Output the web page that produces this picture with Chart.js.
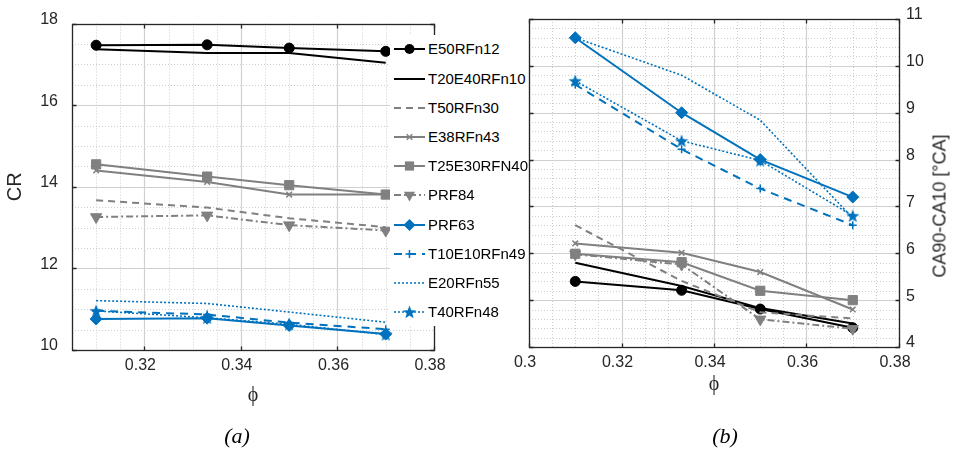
<!DOCTYPE html>
<html>
<head>
<meta charset="utf-8">
<script src="https://cdn.jsdelivr.net/npm/chart.js@4.4.1/dist/chart.umd.min.js"></script>
<style>
  body { margin: 0; background: #fff; }
  #fig { position: relative; width: 954px; height: 453px; overflow: hidden; font-family: "Liberation Sans", Arial, sans-serif; }
  #fig canvas { position: absolute; top: 0; }
  #legend { position: absolute; left: 390px; top: 35px; width: 138px; height: 291px; background: #fff; z-index: 2; }
  .row { position: absolute; left: 0; width: 138px; height: 20px; }
  .row svg { position: absolute; left: 4px; top: 2px; }
  .row span { position: absolute; left: 38px; top: 0; font-size: 15px; line-height: 20px; color: #000; white-space: nowrap; }
  #caTitle { position: absolute; left: 940px; top: 206px; transform: translate(-50%, -50%) rotate(-90deg); font-size: 18px; color: #262626; white-space: nowrap; }
  .cap { position: absolute; top: 436px; transform: translate(-50%, -50%); font: italic 22px "Liberation Serif", "Times New Roman", serif; color: #000; }
</style>
</head>
<body>
<div id="fig">
  <canvas id="crChart" width="480" height="453" style="left:0"></canvas>
  <canvas id="caChart" width="474" height="453" style="left:480px"></canvas>
  <div id="legend"></div>
  <div id="caTitle">CA90-CA10 [°CA]</div>
  <div class="cap" style="left:237px">(a)</div>
  <div class="cap" style="left:725px">(b)</div>
</div>
<script>
// equivalence ratio of the four operating points
var phi = [0.310, 0.333, 0.350, 0.370];

var names = ['E50RFn12', 'T20E40RFn10', 'T50RFn30', 'E38RFn43', 'T25E30RFN40',
             'PRF84', 'PRF63', 'T10E10RFn49', 'E20RFn55', 'T40RFn48'];

// compression ratio (a)
var crE50RFn12    = [17.47, 17.48, 17.40, 17.32];
var crT20E40RFn10 = [17.37, 17.28, 17.28, 17.04];
var crT50RFn30    = [13.67, 13.49, 13.23, 13.01];
var crE38RFn43    = [14.40, 14.12, 13.81, 13.81];
var crT25E30RFN40 = [14.55, 14.25, 14.04, 13.81];
var crPRF84       = [13.26, 13.30, 13.06, 12.93];
var crPRF63       = [10.76, 10.78, 10.60, 10.39];
var crT10E10RFn49 = [10.96, 10.87, 10.67, 10.51];
var crE20RFn55    = [11.21, 11.14, 10.93, 10.68];
var crT40RFn48    = [10.96, 10.79, 10.63, 10.38];

// combustion duration CA90-CA10 (b)
var caE50RFn12    = [5.40, 5.21, 4.81, 4.41];
var caT20E40RFn10 = [5.80, 5.30, 4.83, 4.50];
var caT50RFn30    = [6.60, 5.41, 4.74, 4.61];
var caE38RFn43    = [6.21, 6.01, 5.60, 4.80];
var caT25E30RFN40 = [5.99, 5.81, 5.20, 5.00];
var caPRF84       = [5.98, 5.76, 4.59, 4.39];
var caPRF63       = [10.60, 9.00, 8.00, 7.20];
var caT10E10RFn49 = [9.60, 8.22, 7.38, 6.60];
var caE20RFn55    = [10.60, 9.80, 8.84, 6.75];
var caT40RFn48    = [9.68, 8.40, 7.98, 6.80];

var phiTicksA = [0.32, 0.34, 0.36, 0.38];
var phiTicksB = [0.30, 0.32, 0.34, 0.36, 0.38];
var crTicks = [10, 12, 14, 16, 18];
var caTicks = [4, 5, 6, 7, 8, 9, 10, 11];

var crValues = [crE50RFn12, crT20E40RFn10, crT50RFn30, crE38RFn43, crT25E30RFN40,
                crPRF84, crPRF63, crT10E10RFn49, crE20RFn55, crT40RFn48];
var caValues = [caE50RFn12, caT20E40RFn10, caT50RFn30, caE38RFn43, caT25E30RFN40,
                caPRF84, caPRF63, caT10E10RFn49, caE20RFn55, caT40RFn48];

var BLACK = '#000000', GRAY = '#808080', BLUE = '#0072BD';

// line / marker look of every series, same order as names
var seriesStyle = [
  { color: BLACK, dash: [],           width: 2,   marker: 'circle',   size: 5 },
  { color: BLACK, dash: [],           width: 2,   marker: null },
  { color: GRAY,  dash: [7, 5],       width: 2,   marker: null },
  { color: GRAY,  dash: [],           width: 2,   marker: 'crossRot', size: 4 },
  { color: GRAY,  dash: [],           width: 2,   marker: 'rect',     size: 6.5 },
  { color: GRAY,  dash: [7, 3, 2, 3], width: 2,   marker: 'triDown',  size: 6.5 },
  { color: BLUE,  dash: [],           width: 2,   marker: 'diamond',  size: 6 },
  { color: BLUE,  dash: [8, 6],       width: 2,   marker: 'plus',     size: 4 },
  { color: BLUE,  dash: [2, 2],       width: 1.6, marker: null },
  { color: BLUE,  dash: [2, 2],       width: 1.6, marker: 'star',     size: 7 }
];

function starPoints(cx, cy, R, r) {
  var pts = [];
  for (var k = 0; k < 10; k++) {
    var a = -Math.PI / 2 + k * Math.PI / 5;
    var rr = k % 2 ? r : R;
    pts.push([cx + rr * Math.cos(a), cy + rr * Math.sin(a)]);
  }
  return pts;
}

// filled five point star, used as a pointStyle image
function makeStar(R, color) {
  var c = document.createElement('canvas');
  c.width = c.height = Math.ceil(2 * R + 2);
  var g = c.getContext('2d');
  var pts = starPoints(c.width / 2, c.height / 2 + 0.6, R, R * 0.42);
  g.beginPath();
  pts.forEach(function (p, k) { k ? g.lineTo(p[0], p[1]) : g.moveTo(p[0], p[1]); });
  g.closePath();
  g.fillStyle = color;
  g.fill();
  return c;
}

function pointStyleFor(m, st) {
  if (m === 'star') return makeStar(st.size, st.color);
  if (m === 'triDown') return 'triangle';
  if (m === 'diamond') return 'rectRot';
  if (m === 'plus') return 'cross';
  return m;
}

function buildSets(valueLists) {
  return names.map(function (name, i) {
    var st = seriesStyle[i];
    var lineMarker = st.marker === 'crossRot' || st.marker === 'plus';
    return {
      label: name,
      data: phi.map(function (p, j) { return { x: p, y: valueLists[i][j] }; }),
      borderColor: st.color,
      backgroundColor: st.color,
      borderWidth: st.width,
      borderDash: st.dash,
      pointStyle: st.marker ? pointStyleFor(st.marker, st) : false,
      pointRadius: st.marker ? st.size : 0,
      pointRotation: st.marker === 'triDown' ? 180 : 0,
      pointBorderWidth: lineMarker ? 1.5 : 1,
      pointBackgroundColor: st.color,
      pointBorderColor: st.color,
      tension: 0,
      fill: false,
      order: -i
    };
  });
}

function stepsBetween(min, max, step) {
  var out = [];
  for (var k = Math.ceil(min / step - 1e-6); k * step <= max + 1e-9; k++) out.push(k * step);
  return out;
}

// dotted minor grid, solid major grid, axes box and inward tick marks
var axesBox = {
  id: 'axesBox',
  beforeDatasetsDraw: function (chart, args, opts) {
    var ctx = chart.ctx, a = chart.chartArea;
    var xs = chart.scales.x, ys = chart.scales.y;
    function isMajor(scale, v, step) {
      return scale.ticks.some(function (t) { return Math.abs(t.value - v) < step / 100; });
    }
    ctx.save();
    ctx.lineWidth = 1;
    ctx.strokeStyle = '#cdcdcd';
    ctx.setLineDash([1, 2]);
    stepsBetween(xs.min, xs.max, opts.xStep).forEach(function (v) {
      if (isMajor(xs, v, opts.xStep)) return;
      var px = Math.round(xs.getPixelForValue(v)) + 0.5;
      ctx.beginPath(); ctx.moveTo(px, a.top); ctx.lineTo(px, a.bottom); ctx.stroke();
    });
    stepsBetween(ys.min, ys.max, opts.yStep).forEach(function (v) {
      if (isMajor(ys, v, opts.yStep)) return;
      var py = Math.round(ys.getPixelForValue(v)) + 0.5;
      ctx.beginPath(); ctx.moveTo(a.left, py); ctx.lineTo(a.right, py); ctx.stroke();
    });
    ctx.setLineDash([]);
    ctx.strokeStyle = '#d0d0d0';
    ctx.lineWidth = 1.2;
    ctx.beginPath();
    xs.ticks.forEach(function (t) {
      var px = Math.round(xs.getPixelForValue(t.value)) + 0.5;
      ctx.moveTo(px, a.top); ctx.lineTo(px, a.bottom);
    });
    ys.ticks.forEach(function (t) {
      var py = Math.round(ys.getPixelForValue(t.value)) + 0.5;
      ctx.moveTo(a.left, py); ctx.lineTo(a.right, py);
    });
    ctx.stroke();

    ctx.strokeStyle = '#262626';
    ctx.lineWidth = 1.3;
    var L = Math.round(a.left) + 0.5, R = Math.round(a.right) + 0.5;
    var T = Math.round(a.top) + 0.5, B = Math.round(a.bottom) + 0.5;
    ctx.strokeRect(L, T, R - L, B - T);
    ctx.beginPath();
    xs.ticks.forEach(function (t) {
      var px = Math.round(xs.getPixelForValue(t.value)) + 0.5;
      ctx.moveTo(px, B); ctx.lineTo(px, B - 4);
      ctx.moveTo(px, T); ctx.lineTo(px, T + 4);
    });
    ys.ticks.forEach(function (t) {
      var py = Math.round(ys.getPixelForValue(t.value)) + 0.5;
      ctx.moveTo(L, py); ctx.lineTo(L + 4, py);
      ctx.moveTo(R, py); ctx.lineTo(R - 4, py);
    });
    ctx.stroke();
    ctx.restore();
  }
};

Chart.defaults.font.family = '"Liberation Sans", Arial, sans-serif';
Chart.defaults.color = '#262626';

function fixedTicks(list) {
  return function (scale) { scale.ticks = list.map(function (v) { return { value: v }; }); };
}
function tickText(v) { return String(v); }

// major grid is stroked by axesBox, the library only lays out the labels
var noGrid = { display: false, drawTicks: false };

var crChart = new Chart(document.getElementById('crChart'), {
  type: 'line',
  data: { datasets: buildSets(crValues) },
  options: {
    responsive: false,
    animation: false,
    layout: { padding: { top: 15, right: 46, left: 0, bottom: 0 } },
    plugins: {
      legend: { display: false },
      tooltip: { enabled: false },
      axesBox: { xStep: 0.005, yStep: 0.5 }
    },
    scales: {
      x: {
        type: 'linear', min: 0.305, max: 0.38,
        afterBuildTicks: fixedTicks(phiTicksA),
        afterFit: function (s) { s.height = 103; },
        grid: noGrid,
        border: { display: false },
        ticks: { font: { size: 16 }, padding: 6, labelOffset: -4, maxRotation: 0, callback: tickText },
        title: { display: true, text: 'ϕ', font: { family: '"Liberation Serif", serif', size: 20 }, color: '#262626', padding: { top: 0, bottom: 45 } }
      },
      y: {
        type: 'linear', min: 10, max: 18,
        afterBuildTicks: fixedTicks(crTicks),
        afterFit: function (s) { s.width = 72; },
        grid: noGrid,
        border: { display: false },
        ticks: { font: { size: 16 }, padding: 14, labelOffset: -4, callback: tickText },
        title: { display: true, text: 'CR', font: { size: 20 }, color: '#262626', padding: { top: 3, bottom: 0 } }
      }
    }
  },
  plugins: [axesBox]
});

var caChart = new Chart(document.getElementById('caChart'), {
  type: 'line',
  data: { datasets: buildSets(caValues) },
  options: {
    responsive: false,
    animation: false,
    layout: { padding: { top: 19, right: 0, left: 49, bottom: 0 } },
    plugins: {
      legend: { display: false },
      tooltip: { enabled: false },
      axesBox: { xStep: 0.005, yStep: 0.2 }
    },
    scales: {
      x: {
        type: 'linear', min: 0.3, max: 0.38,
        afterBuildTicks: fixedTicks(phiTicksB),
        afterFit: function (s) { s.height = 106; },
        grid: noGrid,
        border: { display: false },
        ticks: { font: { size: 16 }, padding: 6, labelOffset: -4, maxRotation: 0, callback: tickText },
        title: { display: true, text: 'ϕ', font: { family: '"Liberation Serif", serif', size: 20 }, color: '#262626', padding: { top: 0, bottom: 56 } }
      },
      y: {
        type: 'linear', position: 'right', min: 4, max: 11,
        afterBuildTicks: fixedTicks(caTicks),
        afterFit: function (s) { s.width = 55; },
        grid: noGrid,
        border: { display: false },
        ticks: { font: { size: 16 }, padding: 7, labelOffset: -4, callback: tickText }
      }
    }
  },
  plugins: [axesBox]
});

// legend shared by both panels
function markerSvg(m, cx, cy, st) {
  var c = st.color;
  if (m === 'circle') return '<circle cx="' + cx + '" cy="' + cy + '" r="' + st.size + '" fill="' + c + '"/>';
  if (m === 'rect') {
    var h = st.size * Math.SQRT1_2;
    return '<rect x="' + (cx - h) + '" y="' + (cy - h) + '" width="' + 2 * h + '" height="' + 2 * h + '" fill="' + c + '"/>';
  }
  if (m === 'crossRot') {
    var d = st.size * Math.SQRT1_2;
    return '<path d="M' + (cx - d) + ' ' + (cy - d) + 'L' + (cx + d) + ' ' + (cy + d) + 'M' + (cx - d) + ' ' + (cy + d) + 'L' + (cx + d) + ' ' + (cy - d) + '" stroke="' + c + '" stroke-width="1.5"/>';
  }
  if (m === 'plus') {
    var p = st.size;
    return '<path d="M' + (cx - p) + ' ' + cy + 'L' + (cx + p) + ' ' + cy + 'M' + cx + ' ' + (cy - p) + 'L' + cx + ' ' + (cy + p) + '" stroke="' + c + '" stroke-width="1.5"/>';
  }
  if (m === 'triDown') {
    var r = st.size, w = r * Math.sqrt(3) / 2;
    return '<path d="M' + (cx - w) + ' ' + (cy - r / 2) + 'L' + (cx + w) + ' ' + (cy - r / 2) + 'L' + cx + ' ' + (cy + r) + 'Z" fill="' + c + '"/>';
  }
  if (m === 'diamond') {
    var q = st.size;
    return '<path d="M' + cx + ' ' + (cy - q) + 'L' + (cx + q) + ' ' + cy + 'L' + cx + ' ' + (cy + q) + 'L' + (cx - q) + ' ' + cy + 'Z" fill="' + c + '"/>';
  }
  if (m === 'star') {
    var pts = starPoints(cx, cy + 0.6, st.size, st.size * 0.42).map(function (pt) { return pt[0].toFixed(2) + ',' + pt[1].toFixed(2); });
    return '<polygon points="' + pts.join(' ') + '" fill="' + c + '"/>';
  }
  return '';
}

var legend = document.getElementById('legend');
names.forEach(function (name, i) {
  var st = seriesStyle[i];
  var row = document.createElement('div');
  row.className = 'row';
  row.style.top = (14.3 + i * 29.2 - 10) + 'px';
  var svg = '<svg width="34" height="16" viewBox="0 0 34 16">' +
    '<line x1="0" y1="8" x2="31" y2="8" stroke="' + st.color + '" stroke-width="' + st.width + '"' +
    (st.dash.length ? ' stroke-dasharray="' + st.dash.join(' ') + '"' : '') + '/>' +
    (st.marker ? markerSvg(st.marker, 15.5, 8, st) : '') + '</svg>';
  row.innerHTML = svg + '<span>' + name + '</span>';
  legend.appendChild(row);
});
</script>
</body>
</html>
